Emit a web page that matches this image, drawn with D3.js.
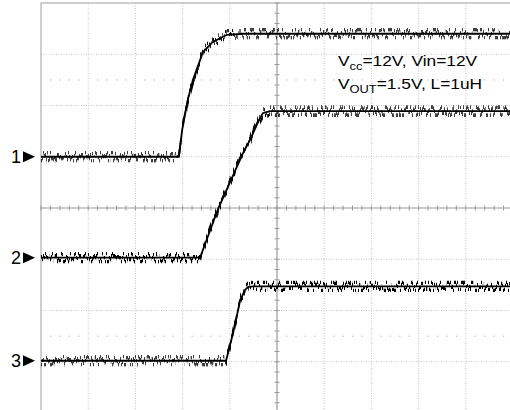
<!DOCTYPE html>
<html>
<head>
<meta charset="utf-8">
<script src="https://cdn.jsdelivr.net/npm/d3@7"></script>
<style>
  html, body { margin: 0; padding: 0; background: #fff; }
  svg { display: block; }
</style>
</head>
<body>
<div id="scope"></div>
<script>
// Trace points, in divisions (x: time div, y: level div from centre)
const ch1Time  = [0, 2.92, 2.99, 3.11, 3.22, 3.43, 3.64, 3.94, 4.3, 10];
const ch1Level = [1.0, 1.0, 1.52, 2.11, 2.50, 3.04, 3.24, 3.38, 3.40, 3.40];
const ch2Time  = [0, 3.37, 3.75, 4.28, 4.43, 4.60, 4.70, 4.85, 10];
const ch2Level = [-0.97, -0.97, -0.02, 1.07, 1.33, 1.68, 1.85, 1.89, 1.89];
const ch3Time  = [0, 3.92, 4.07, 4.22, 4.32, 4.39, 4.5, 10];
const ch3Level = [-2.98, -2.98, -2.44, -1.80, -1.60, -1.54, -1.53, -1.53];
const channelNames = ["1", "2", "3"];
const channelOffsets = [1.0, -0.97, -2.98];
const noteLine1 = ["V", "cc", "=12V,  Vin=12V"];
const noteLine2 = ["V", "OUT", "=1.5V, L=1uH"];

const width = 510;
const height = 410;

const svg = d3.select("#scope").append("svg")
  .attr("width", width)
  .attr("height", height);

// jitter filter to give the traces their noisy look (vertical only)
const defs = svg.append("defs");
const filt = defs.append("filter")
  .attr("id", "jitter")
  .attr("filterUnits", "userSpaceOnUse")
  .attr("x", 0).attr("y", 0).attr("width", width).attr("height", height);
filt.append("feTurbulence")
  .attr("type", "fractalNoise")
  .attr("baseFrequency", "0.6 0.02")
  .attr("numOctaves", 2)
  .attr("seed", 11)
  .attr("result", "n");
filt.append("feColorMatrix")
  .attr("in", "n")
  .attr("type", "matrix")
  .attr("values", "0 0 0 0 0.5  0 4 0 0 -1.5  0 0 0 0 0  0 0 0 0 1")
  .attr("result", "m");
filt.append("feDisplacementMap")
  .attr("in", "SourceGraphic")
  .attr("in2", "m")
  .attr("scale", 8)
  .attr("xChannelSelector", "R")
  .attr("yChannelSelector", "G")
  .attr("result", "d");
filt.append("feMorphology")
  .attr("in", "d")
  .attr("operator", "dilate")
  .attr("radius", "0 1");

// 10 x 8 division graticule, partly outside the photo on the right/bottom
const x = d3.scaleLinear().domain([0, 10]).range([41, 41 + 10 * 47.2]);
const y = d3.scaleLinear().domain([-4, 4]).range([3 + 8 * 51.25, 3]);

const grid = svg.append("g");

// dotted division lines
grid.selectAll(".vgrid")
  .data(d3.range(1, 10).filter(d => d !== 5))
  .join("line")
  .attr("x1", d => x(d)).attr("x2", d => x(d))
  .attr("y1", y(4)).attr("y2", y(-4))
  .attr("stroke", "#c4c4c4")
  .attr("stroke-dasharray", "1,1.5");

grid.selectAll(".hgrid")
  .data(d3.range(-3, 4).filter(d => d !== 0))
  .join("line")
  .attr("x1", x(0)).attr("x2", x(10))
  .attr("y1", d => y(d)).attr("y2", d => y(d))
  .attr("stroke", "#c4c4c4")
  .attr("stroke-dasharray", "1,1.5");

// sparse dots at +/-2.5 div
const dotX = d3.range(0, 50).filter(i => i % 5 !== 0).map(i => i / 5);
[2.5, -2.5].forEach(lv => {
  grid.selectAll(null)
    .data(dotX)
    .join("rect")
    .attr("x", d => x(d) - 0.5)
    .attr("y", y(lv) - 0.5)
    .attr("width", 1.2)
    .attr("height", 1.2)
    .attr("fill", "#b8b8b8");
});

// outer frame
grid.append("rect")
  .attr("x", x(0)).attr("y", y(4))
  .attr("width", x(10) - x(0)).attr("height", y(-4) - y(4))
  .attr("fill", "none")
  .attr("stroke", "#b0b0b0")
  .attr("stroke-width", 1.2);

// centre axes with minor ticks
grid.append("line")
  .attr("x1", x(0)).attr("x2", x(10))
  .attr("y1", y(0)).attr("y2", y(0))
  .attr("stroke", "#9a9a9a").attr("stroke-width", 1.2);
grid.append("line")
  .attr("x1", x(5)).attr("x2", x(5))
  .attr("y1", y(4)).attr("y2", y(-4))
  .attr("stroke", "#9a9a9a").attr("stroke-width", 1.2);

grid.selectAll(".xtick")
  .data(d3.range(0, 51).map(i => i / 5))
  .join("line")
  .attr("x1", d => x(d)).attr("x2", d => x(d))
  .attr("y1", y(0) - 2.5).attr("y2", y(0) + 2.5)
  .attr("stroke", "#9a9a9a");
grid.selectAll(".ytick")
  .data(d3.range(-20, 21).map(i => i / 5))
  .join("line")
  .attr("x1", x(5) - 2.5).attr("x2", x(5) + 2.5)
  .attr("y1", d => y(d)).attr("y2", d => y(d))
  .attr("stroke", "#9a9a9a");

// traces
const line = d3.line().x(d => x(d[0])).y(d => y(d[1]));
const traces = [
  d3.zip(ch1Time, ch1Level),
  d3.zip(ch2Time, ch2Level),
  d3.zip(ch3Time, ch3Level)
];

const traceG = svg.append("g");
traceG.selectAll(".base")
  .data(traces)
  .join("path")
  .attr("d", line)
  .attr("fill", "none")
  .attr("stroke", "#000")
  .attr("stroke-width", 1.8);
traceG.selectAll(".noisy")
  .data(traces)
  .join("path")
  .attr("d", line)
  .attr("fill", "none")
  .attr("stroke", "#000")
  .attr("stroke-width", 1.2)
  .attr("filter", "url(#jitter)");

// channel markers on the left
const markers = svg.append("g");
markers.selectAll("text")
  .data(channelNames)
  .join("text")
  .attr("x", 21)
  .attr("y", (_, i) => y(channelOffsets[i]) + 6.5)
  .attr("text-anchor", "end")
  .style("font-family", "Arial, 'Liberation Sans', sans-serif")
  .style("font-size", "18px")
  .style("fill", "#000")
  .text(d => d);
markers.selectAll("path")
  .data(channelOffsets)
  .join("path")
  .attr("d", d => `M23,${y(d) - 5.5}L35,${y(d)}L23,${y(d) + 5.5}Z`)
  .attr("fill", "#000");

// test condition note
const addNote = (parts, ty) => {
  const t = svg.append("text")
    .attr("transform", `translate(338,${ty}) scale(1.12,1)`)
    .style("font-family", "Arial, 'Liberation Sans', sans-serif")
    .style("font-size", "15.5px")
    .style("fill", "#000");
  t.append("tspan").text(parts[0]);
  t.append("tspan").attr("dy", 4).style("font-size", "11.5px").text(parts[1]);
  t.append("tspan").attr("dy", -4).text(parts[2]);
};
addNote(noteLine1, 66);
addNote(noteLine2, 89);
</script>
</body>
</html>
